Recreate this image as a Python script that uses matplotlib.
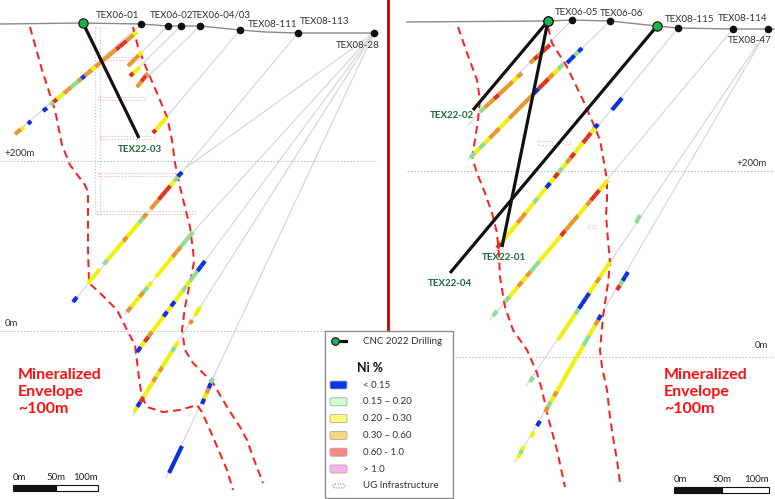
import matplotlib
matplotlib.use("Agg")
import matplotlib.pyplot as plt
from matplotlib.patches import Rectangle, FancyBboxPatch

plt.rcParams['font.family'] = ['Lato', 'DejaVu Sans']

# section coordinates (drawing units, y grows downward)
W, H = 775, 499

# grade classes (Ni %)
grade_codes = ['B', 'G', 'Y', 'O', 'R', 'P']
grade_labels = ['< 0.15', '0.15 \u2013 0.20', '0.20 \u2013 0.30', '0.30 \u2013 0.60', '0.60 - 1.0', '> 1.0']
grade_fill = ['#0a36e8', '#ccffcc', '#ffff77', '#ffd684', '#ff8585', '#ffb0ee']
grade_draw = {'B': '#0b30e0', 'G': '#8edc8e', 'Y': '#f0f00a', 'O': '#e8952a', 'R': '#e2301a', 'P': '#ff9ee8'}

# topography
surf_left = [(0, 24), (83, 23), (141, 24), (168, 26), (181, 26), (200, 26), (240, 30),
             (265, 32), (298, 33), (377, 33)]
surf_right = [(407, 22), (548, 21), (572, 20), (610, 21), (657, 26), (678, 28),
              (733, 29), (768, 29), (775, 29)]

# historic collars
collar_names = ['TEX06-01', 'TEX06-02', 'TEX06-04/03', 'TEX08-111', 'TEX08-113', 'TEX08-28',
                'TEX06-05', 'TEX06-06', 'TEX08-115', 'TEX08-114', 'TEX08-47']
collar_x = [141, 168, 200, 240, 298, 374, 572, 610, 678, 733, 768]
collar_y = [24, 26, 26, 30, 33, 33, 20, 21, 28, 29, 29]
extra_dots = [(181, 26)]
label_x = [96, 150, 192, 248, 300, 380, 555, 600, 665, 718, 772]
label_y = [15, 15, 15, 24, 21, 45, 12, 13, 19, 18, 40]
label_ha = ['left'] * 5 + ['right'] + ['left'] * 4 + ['right']

# 2022 holes
new_names = ['TEX22-03', 'TEX22-02', 'TEX22-01', 'TEX22-04']
new_collar = [(83, 23), (548, 21), (548, 21), (657, 26)]
new_toe = [(139, 138), (473, 110), (502, 247), (450, 273)]
new_label = [(118, 149), (430, 115), (482, 257), (428, 283)]

# historic traces
traces = [
    [(141, 24), (15, 134)],
    [(168, 26), (128, 66)],
    [(181, 26), (130, 76)],
    [(200, 26), (137, 87)],
    [(240, 30), (153, 133)],
    [(298, 33), (182, 172), (72, 303)],
    [(374, 33), (187, 167)],
    [(374, 33), (193, 232), (125, 314)],
    [(374, 33), (205, 261), (135, 355)],
    [(374, 33), (178, 342), (133, 415)],
    [(374, 33), (213, 378), (166, 478)],
    [(572, 20), (468, 125)],
    [(610, 21), (468, 160)],
    [(678, 28), (495, 252)],
    [(733, 29), (490, 320)],
    [(768, 29), (526, 386)],
    [(768, 29), (515, 462)],
]

# assay runs: start, end, grade string (equal pieces, W = no sample)
runs = [
    (137, 32, 50, 105, 'YOORRROOOOOOYOOBOGGOOYYRG'),
    (47, 108, 43, 111, 'B'), (31, 121, 28, 124, 'B'), (24, 127, 15, 134, 'YOO'),
    (142, 52, 128, 66, 'YOOO'), (140, 67, 130, 76, 'YYR'), (148, 73, 137, 87, 'ORROO'),
    (167, 117, 153, 133, 'YYYYR'),
    (182, 172, 88, 283, 'BGYRRROOWOGYYYOYYYYGWYYY'), (77, 297, 73, 302, 'B'),
    (193, 232, 127, 312, 'GGGOOYYYYWYGOYYO'),
    (205, 261, 137, 352, 'BBGGYGYYBYBYYYORYB'),
    (200, 307, 195, 316, 'Y'), (192, 320, 190, 324, 'O'),
    (178, 342, 134, 412, 'YGYYYOYOYYYRBY'),
    (213, 378, 202, 404, 'GBOYB'),
    (182, 446, 169, 473, 'B'),
    (550, 45, 530, 63, 'RRORO'), (522, 73, 480, 112, 'OYOOOROOG'),
    (582, 48, 567, 63, 'BGBB'), (563, 64, 470, 158, 'GYORRBOOOOOYYOOYGYG'),
    (622, 98, 612, 110, 'B'), (598, 124, 594, 129, 'B'),
    (595, 128, 497, 248, 'YRRYYROYGRYBYYGYYOOYYYYR'),
    (608, 180, 505, 302, 'YYRROYYOOORYYYYYGGOYOYYG'),
    (640, 215, 636, 223, 'G'), (628, 272, 617, 290, 'BBGR'),
    (610, 262, 558, 340, 'YYYOYYBBBGYYYYY'),
    (601, 315, 545, 412, 'BOYYGGYYYYYYYYYOYGO'),
    (497, 311, 493, 316, 'G'), (533, 377, 530, 382, 'G'), (540, 421, 537, 426, 'B'),
    (534, 432, 531, 437, 'Y'), (524, 446, 518, 458, 'YGY'),
]

# mineralized envelope outlines
envelopes = [
    [(30, 27), (42, 70), (55, 110), (62, 145), (70, 165), (85, 185), (88, 192), (88, 250),
     (89, 283), (100, 293), (117, 310), (127, 330), (135, 345), (138, 370), (140, 385),
     (142, 397), (147, 407), (163, 412), (180, 410), (197, 405), (202, 412), (213, 437),
     (227, 470), (233, 490)],
    [(133, 27), (138, 47), (147, 70), (157, 93), (167, 117), (172, 140), (175, 163),
     (180, 187), (185, 207), (190, 227), (193, 250), (194, 262), (190, 283), (185, 307),
     (182, 330), (185, 350), (193, 363), (207, 377), (213, 383), (227, 407), (240, 427),
     (247, 440), (253, 457), (263, 483)],
    [(458, 27), (467, 53), (477, 80), (480, 100), (478, 120), (475, 140), (472, 157),
     (477, 173), (485, 193), (492, 213), (497, 233), (499, 255), (500, 277), (505, 307),
     (513, 330), (527, 350), (537, 373), (542, 390), (548, 417), (557, 450), (565, 487)],
    [(548, 27), (552, 43), (567, 67), (583, 100), (593, 123), (600, 140), (603, 157),
     (607, 180), (607, 200), (606, 215), (608, 240), (610, 263), (608, 283), (603, 317),
     (600, 350), (602, 367), (607, 390), (610, 417), (613, 437), (617, 460), (620, 483)],
]

# underground workings (x, y, w, h)
workings = [(95, 27, 5, 187), (98, 57, 42, 3), (98, 97, 47, 3), (100, 136, 55, 3),
            (98, 173, 77, 3), (97, 211, 98, 3), (538, 141, 14, 4), (563, 141, 7, 3),
            (588, 225, 7, 3)]

# elevation lines: y, x from, x to, label, label x, label y, alignment
elev_lines = [(161, 0, 377, '+200m', 4, 154, 'left'), (331, 0, 325, '0m', 5, 323, 'left'),
              (171, 407, 775, '+200m', 767, 163, 'right'), (357, 455, 775, '0m', 768, 346, 'right')]

# scale bars: x0, x1, y
scale_bars = [(13, 98, 488), (674, 769, 490)]
scale_ticks = ['0m', '50m', '100m']

fig = plt.figure(figsize=(7.75, 4.99), dpi=100)
ax = fig.add_axes([0, 0, 1, 1])
ax.set_xlim(0, W)
ax.set_ylim(H, 0)
ax.axis('off')

for x, y, w, h in workings:
    ax.add_patch(Rectangle((x, y), w, h, fill=False, ec='#e6b4b4', lw=0.8, ls=':', zorder=1))

for tr in traces:
    ax.plot([p[0] for p in tr], [p[1] for p in tr], color='#d4d4d4', lw=0.8, zorder=2)

for y, x0, x1, lab, lx, ly, ha in elev_lines:
    ax.plot([x0, x1], [y, y], color='#c4c4c4', lw=0.8, ls=(0, (1.5, 1.5)), zorder=2)
    ax.text(lx, ly, lab, fontsize=7, color='#333333', ha=ha, va='center', zorder=6)

for env in envelopes:
    ax.plot([p[0] for p in env], [p[1] for p in env], color='#ff1a1a', lw=1.4,
            ls=(0, (4, 2.6)), zorder=3)

for s in (surf_left, surf_right):
    ax.plot([p[0] for p in s], [p[1] for p in s], color='#8a8a8a', lw=1.0, zorder=4)

for x0, y0, x1, y1, codes in runs:
    n = len(codes)
    for i, c in enumerate(codes):
        if c == 'W':
            continue
        xa = x0 + (x1 - x0) * i / n
        ya = y0 + (y1 - y0) * i / n
        xb = x0 + (x1 - x0) * (i + 1) / n
        yb = y0 + (y1 - y0) * (i + 1) / n
        ax.plot([xa, xb], [ya, yb], color=grade_draw[c], lw=3.0,
                solid_capstyle='butt', zorder=5)

for (cx, cy), (tx, ty) in zip(new_collar, new_toe):
    ax.plot([cx, tx], [cy, ty], color='#111111', lw=2.3, solid_capstyle='butt', zorder=6)

ax.scatter(collar_x, collar_y, s=20, color='#111111', zorder=7)
ax.scatter([p[0] for p in extra_dots], [p[1] for p in extra_dots], s=20, color='#111111', zorder=7)
ax.scatter([p[0] for p in new_collar], [p[1] for p in new_collar], s=45, color='#1fb050',
           edgecolors='#111111', linewidths=0.8, zorder=8)

for name, lx, ly, ha in zip(collar_names, label_x, label_y, label_ha):
    ax.text(lx, ly, name, fontsize=7, color='#333333', ha=ha, va='center', zorder=8)
for name, (lx, ly) in zip(new_names, new_label):
    ax.text(lx, ly, name, fontsize=7, color='#1d6b38', fontweight='bold',
            ha='left', va='center', zorder=8)

for x0 in (18, 664):
    ax.text(x0, 392, 'Mineralized\nEnvelope\n~100m', fontsize=11.5, color='#ff1010',
            fontweight='bold', ha='left', va='center', linespacing=1.25, zorder=8)

for x0, x1, y in scale_bars:
    xm = (x0 + x1) / 2
    ax.add_patch(Rectangle((x0, y - 3), xm - x0, 6, fc='#111111', ec='#111111', lw=0.8, zorder=8))
    ax.add_patch(Rectangle((xm, y - 3), x1 - xm, 6, fc='white', ec='#111111', lw=0.8, zorder=8))
    for k, t in enumerate(scale_ticks):
        tx = x0 + (x1 - x0) * k / 2
        ax.text(tx, y - 10, t, fontsize=7, color='#222222',
                ha='left' if k == 0 else ('center' if k == 1 else 'right'),
                va='center', zorder=8)

# section divider
ax.plot([388, 388], [0, 330], color='#c00000', lw=2.0, zorder=9)

# legend
ax.add_patch(Rectangle((325, 331), 128, 167, fc='white', ec='#8c8c8c', lw=1.0, zorder=10))
ax.plot([335, 346], [341, 341], color='#111111', lw=2.3, zorder=11)
ax.scatter([335], [341], s=30, color='#1fb050', edgecolors='#111111', linewidths=0.8, zorder=12)
ax.text(363, 341, 'CNC 2022 Drilling', fontsize=7, color='#333333', va='center', zorder=11)
ax.text(357, 368, 'Ni %', fontsize=9, fontweight='bold', color='#111111', va='center', zorder=11)
for k, (lab, col) in enumerate(zip(grade_labels, grade_fill)):
    yy = 385 + k * 16.8
    ax.add_patch(FancyBboxPatch((330, yy - 4), 17, 8, boxstyle='round,pad=0,rounding_size=1.5',
                                fc=col, ec='#aaaaaa', lw=0.6, zorder=11))
    ax.text(363, yy, lab, fontsize=7, color='#333333', va='center', zorder=11)
ax.add_patch(FancyBboxPatch((333, 484), 12, 4, boxstyle='round,pad=0,rounding_size=2',
                            fill=False, ec='#b04040', lw=0.7, ls=':', zorder=11))
ax.text(363, 486, 'UG Infrastructure', fontsize=7, color='#333333', va='center', zorder=11)

fig.savefig('out.png', dpi=100)
